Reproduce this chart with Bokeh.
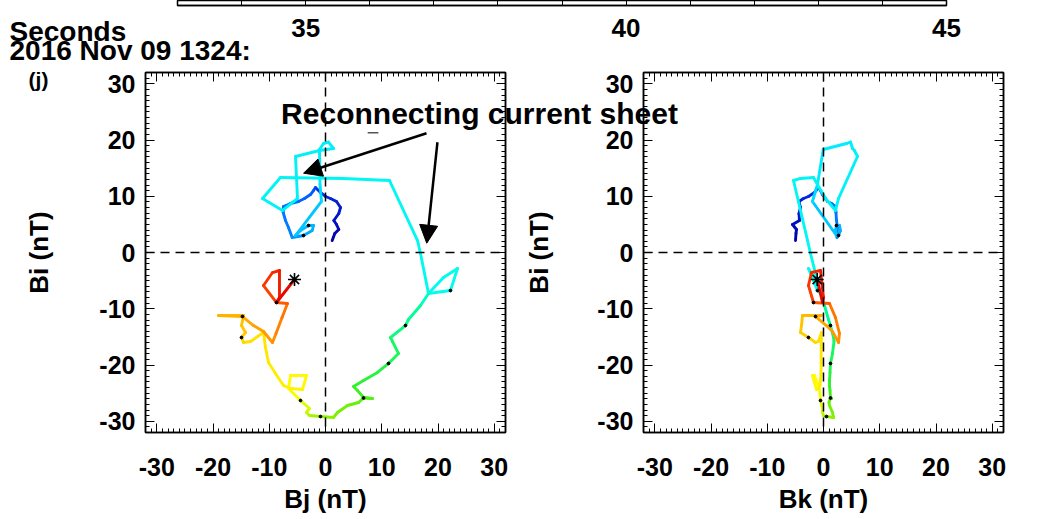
from bokeh.plotting import figure
from bokeh.models import (Range1d, LinearAxis, FixedTicker, Span, Label, Arrow,
                          NormalHead, ColumnDataSource)
from bokeh.layouts import column, row
from bokeh.embed import file_html
from bokeh.resources import INLINE

# ---------------- data ----------------
bi = [2.13, 3.38, 4.09, 4.98, 5.69, 6.93, 8.0, 9.07, 9.6, 9.96, 10.67, 11.56,
      11.02, 10.31, 9.6, 9.07, 8.71, 8.18, 7.11, 5.69, 4.44, 2.67,
      3.02, 3.91, 4.8, 4.8, 3.91, 3.02, 9.07,
      12.09, 18.31, 19.38, 19.64, 18.49, 18.13, 17.07, 9.6, 7.47, 9.6, 13.33,
      13.16, 12.8, 2.13, -0.18, -7.29, -4.44, -2.84, -6.76, -7.29,
      -9.42, -11.91, -12.98, -15.11, -15.82, -17.96, -19.73, -21.33, -22.76,
      -23.82, -24.53, -25.78, -25.96, -25.87, -26.67, -27.2, -28.44, -29.33,
      -29.16, -28.98, -28.44, -27.73,
      -26.31, -24.18, -21.87, -21.87, -24.36, -24.18, -23.64, -21.51, -19.56,
      -16.89, -14.22, -15.82, -16.0, -15.11, -14.22, -12.98, -11.2, -11.2,
      -11.38, -12.98, -14.04, -16.0, -14.4, -11.56, -9.07,
      -8.89, -5.87, -3.56, -3.2, -8.0, -8.89, -4.8]
bj = [1.19, 1.65, 2.36, 1.96, 1.48, 2.36, 2.67, 1.96, 0.89, 0.0, -0.89, -1.78,
      -2.13, -2.67, -3.73, -4.8, -6.22, -7.47, -7.52, -7.11, -6.58, -5.92,
      -3.91, -2.36, -2.13, -3.02, -4.44, -5.33, -0.71,
      -0.98, -1.07, -0.36, 0.53, 1.42, -1.07, -5.33, -4.98, -7.64, -11.2, -8.0,
      3.2, 11.38, 16.36, 16.89, 18.31, 20.98, 23.47, 22.22, 18.31,
      16.89, 14.76, 14.22, 11.56, 11.91, 12.98, 11.2, 9.24, 6.76,
      4.98, 5.69, 6.76, 8.36, 6.76, 5.87, 3.91, 2.13, 1.42,
      -0.89, -2.84, -3.38, -2.84,
      -4.44, -6.58, -6.22, -3.38, -4.09, -6.22, -7.47, -8.89, -10.13,
      -10.67, -11.02, -13.33, -14.58, -14.93, -14.22, -14.93, -14.58, -19.02,
      -14.76, -12.8, -11.02, -9.42, -8.8, -7.72, -6.76,
      -8.71, -11.02, -9.42, -8.18, -8.18, -8.71, -5.51]
bk = [-4.98, -4.89, -4.8, -5.51, -4.27, -4.36, -4.09, -4.36, -3.56, -2.67, -1.6, -0.89,
      -0.53, -0.18, 0.36, 0.71, 1.42, 2.13, 2.22, 2.31, 2.49, 2.4,
      2.67, 3.02, 2.84, 2.31, 2.13, 2.31, -1.96,
      -1.07, -0.05, 4.09, 4.8, 5.16, 5.51, 6.04, 2.67, 2.13, 0.36, -1.78,
      -4.09, -5.33, -2.84, -2.31, -0.53, -1.78, -2.67, -1.07, -0.53,
      0.18, 0.89, 1.24, 1.78, 1.87, 1.6, 1.24, 1.16, 1.07,
      1.07, 1.16, 1.24, 1.42, 1.24, 0.98, 1.07, 1.6, 1.78,
      0.53, 0.0, -0.18, -0.18,
      -0.53, -0.71, -1.6, -1.96, -1.24, -0.89, -0.62, -0.44, -0.41,
      -0.41, -0.36, -0.89, -1.42, -2.67, -4.09, -3.91, -3.73, -0.36,
      -1.42, 0.53, 1.6, 2.67, 2.84, 2.13, 1.07,
      -1.78, -2.67, -2.13, -0.53, 0.0, -0.18, -1.12]

# samples that carry a small black time mark
marked = [22, 25, 47, 51, 55, 62, 67, 71, 84, 89, 96]

axis_ticks = [-30, -20, -10, 0, 10, 20, 30]
tick_labels = ["-30", "-20", "-10", "0", "10", "20", "30"]
time_ticks = [35, 40, 45]
time_labels = ["35", "40", "45"]

# annotation arrows (Bj, Bi) start -> end
arrow_x0 = [17.96, 19.9]
arrow_y0 = [21.2, 19.6]
arrow_x1 = [-3.9, 18.0]
arrow_y1 = [14.1, 1.65]

FONT = "Liberation Sans"

# colour stops along the time index (rainbow)
stops = [(0, (0, 0, 170)), (11, (0, 50, 235)), (12, (0, 90, 255)), (21, (0, 130, 255)),
         (22, (0, 170, 255)), (28, (0, 200, 255)), (29, (0, 235, 255)), (48, (0, 255, 235)),
         (49, (0, 255, 160)), (58, (50, 240, 40)), (66, (130, 240, 0)), (70, (210, 250, 0)),
         (72, (255, 255, 0)), (82, (255, 225, 0)), (87, (255, 190, 0)), (92, (255, 150, 0)),
         (95, (255, 110, 0)), (96, (255, 70, 0)), (102, (230, 0, 0))]


def color_at(t):
    for (i0, c0), (i1, c1) in zip(stops[:-1], stops[1:]):
        if i0 <= t <= i1:
            f = (t - i0) / (i1 - i0)
            c = [round(a + (b - a) * f) for a, b in zip(c0, c1)]
            return "#%02x%02x%02x" % tuple(c)
    return "#%02x%02x%02x" % stops[-1][1]


n = len(bi)
seg_colors = [color_at(i + 0.5) for i in range(n - 1)]


def style_axis(ax, show_labels):
    ax.ticker = FixedTicker(ticks=axis_ticks, minor_ticks=list(range(-32, 33)))
    ax.major_tick_in = 9
    ax.major_tick_out = 0
    ax.minor_tick_in = 4
    ax.minor_tick_out = 0
    ax.axis_line_color = "black"
    ax.axis_line_width = 1.5
    ax.major_tick_line_color = "black"
    ax.minor_tick_line_color = "black"
    if show_labels:
        ax.major_label_overrides = dict(zip(axis_ticks, tick_labels))
        ax.major_label_text_font = FONT
        ax.major_label_text_font_style = "bold"
        ax.major_label_text_font_size = "25px"
        ax.major_label_text_color = "black"
        ax.axis_label_text_font = FONT
        ax.axis_label_text_font_style = "bold"
        ax.axis_label_text_font_size = "26px"
        ax.axis_label_text_color = "black"
    else:
        ax.major_label_overrides = {t: "" for t in axis_ticks}
        ax.major_label_text_font_size = "0px"
        ax.major_label_standoff = 0


def make_panel(xvals, xlabel, width, bl, br, ylab_standoff):
    p = figure(width=width, height=457, x_range=Range1d(-32, 32), y_range=Range1d(-32, 32),
               output_backend="svg", toolbar_location=None,
               min_border_left=bl, min_border_right=br, min_border_top=10, min_border_bottom=87)
    p.grid.visible = False
    p.outline_line_color = "black"
    p.outline_line_width = 1.5
    style_axis(p.xaxis[0], True)
    style_axis(p.yaxis[0], True)
    p.xaxis[0].axis_label = xlabel
    p.yaxis[0].axis_label = "Bi (nT)"
    p.xaxis[0].major_label_standoff = 25
    p.xaxis[0].axis_label_standoff = 5
    p.yaxis[0].major_label_standoff = 10
    p.yaxis[0].axis_label_standoff = ylab_standoff
    top = LinearAxis()
    right = LinearAxis()
    style_axis(top, False)
    style_axis(right, False)
    p.add_layout(top, "above")
    p.add_layout(right, "right")

    p.add_layout(Span(location=0, dimension="height", line_dash="9 6", line_color="black", line_width=1.5))
    p.add_layout(Span(location=0, dimension="width", line_dash="9 6", line_color="black", line_width=1.5))

    src = ColumnDataSource(dict(x0=xvals[:-1], y0=bi[:-1], x1=xvals[1:], y1=bi[1:], c=seg_colors))
    p.segment("x0", "y0", "x1", "y1", source=src, line_color="c", line_width=2.9, line_cap="round")
    p.scatter(x=[xvals[i] for i in marked], y=[bi[i] for i in marked], marker="circle",
              size=2.8, fill_color="black", line_color="black")
    p.scatter(x=[xvals[-1]], y=[bi[-1]], marker="asterisk", size=13, line_color="black", line_width=1.6)
    return p


p1 = make_panel(bj, "Bj (nT)", 1049, 145, 544, 42)
p2 = make_panel(bk, "Bk (nT)", 529, 123, 46, 40)
p2.background_fill_color = None
p2.border_fill_color = None
p2.styles = {"margin-left": "-529px"}

for xs, ys, xe, ye in zip(arrow_x0, arrow_y0, arrow_x1, arrow_y1):
    p1.add_layout(Arrow(x_start=xs, y_start=ys, x_end=xe, y_end=ye, line_width=2.5, line_color="black",
                        end=NormalHead(size=18, fill_color="black", line_color="black")))
p1.segment(x0=[7.5], y0=[21.3], x1=[9.4], y1=[21.3], line_color="#555555", line_width=1.5)

# header: bottom of the time axis of the panel above
h = figure(width=1049, height=62, x_range=Range1d(33, 45), y_range=Range1d(0, 5),
           output_backend="svg", toolbar_location=None,
           min_border_left=177, min_border_right=103, min_border_top=0, min_border_bottom=57)
h.grid.visible = False
h.yaxis.visible = False
h.outline_line_color = "black"
h.outline_line_width = 1.5
hx = h.xaxis[0]
hx.ticker = FixedTicker(ticks=time_ticks, minor_ticks=list(range(33, 46)))
hx.major_label_overrides = dict(zip(time_ticks, time_labels))
hx.major_tick_in = 10
hx.major_tick_out = 0
hx.minor_tick_in = 10
hx.minor_tick_out = 0
hx.axis_line_width = 1.5
hx.major_label_standoff = 13
hx.major_label_text_font = FONT
hx.major_label_text_font_style = "bold"
hx.major_label_text_font_size = "26px"
hx.major_label_text_color = "black"

# transparent overlay page for the free texts (page pixel coordinates)
ov = figure(width=1049, height=519, x_range=Range1d(0, 1049), y_range=Range1d(519, 0),
            output_backend="svg", toolbar_location=None,
            min_border_left=0, min_border_right=0, min_border_top=0, min_border_bottom=0)
ov.axis.visible = False
ov.grid.visible = False
ov.outline_line_color = None
ov.background_fill_color = None
ov.border_fill_color = None


def txt(x, y, s, size, align="left"):
    ov.add_layout(Label(x=x, y=y, text=s, text_align=align, text_baseline="middle",
                        text_font=FONT, text_font_style="bold", text_font_size=size,
                        text_color="black"))


txt(9, 31, "Seconds", "28px")
txt(9, 50, "2016 Nov 09 1324:", "28px")
txt(38, 79, "(j)", "21px", "center")
txt(479, 113, "Reconnecting current sheet", "30px", "center")

ov_row = row(ov, spacing=0)
ov_row.styles = {"margin-top": "-519px"}

layout = column(row(h, spacing=0), row(p1, p2, spacing=0), ov_row, spacing=0)
open("out.html", "w").write(file_html(layout, INLINE))
